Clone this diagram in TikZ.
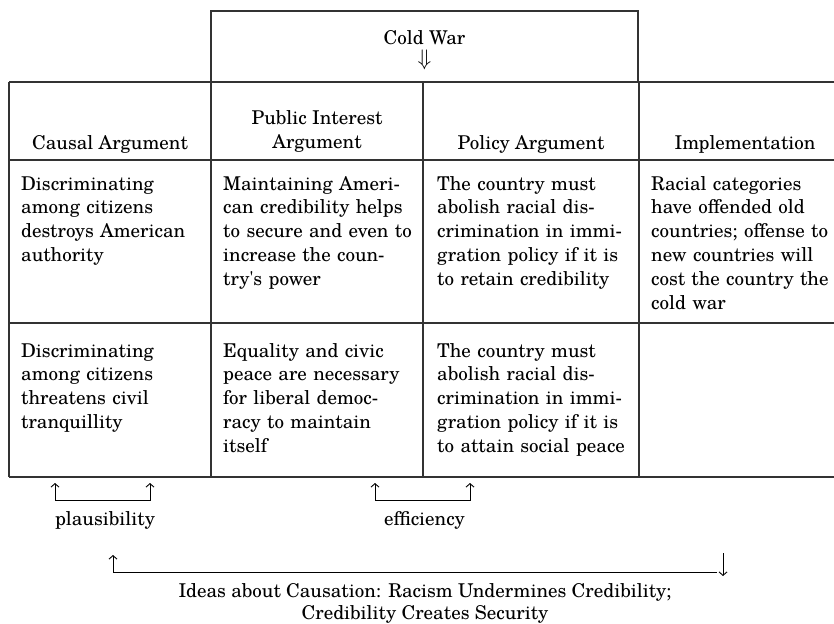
\documentclass[tikz,border=0pt]{standalone}
\usepackage{fontspec}
\usepackage{graphicx}
\setmainfont{texgyreschola}[Extension=.otf,UprightFont=*-regular,BoldFont=*-bold,ItalicFont=*-italic,BoldItalicFont=*-bolditalic,Ligatures=TeXOff]
\usetikzlibrary{arrows.meta}

\tikzset{
  rule/.style={line width=1.1pt, black!80},
  cell/.style={anchor=base west, text width=200pt, align=left, inner sep=0pt},
  head/.style={anchor=base, align=center, inner sep=0pt},
  twin/.style={line width=0.9pt, {Straight Barb[length=3.5pt,width=8pt]}-{Straight Barb[length=3.5pt,width=8pt]}},
  single/.style={line width=0.9pt, -{Straight Barb[length=3.5pt,width=8pt]}},
}

\begin{document}
\begin{tikzpicture}[x=1pt,y=1pt,yscale=-1,xscale=1,font=\fontsize{19}{23.8}\selectfont]
\useasboundingbox (0,0) rectangle (834,623);

%Shape: Cold War box
\draw [rule] (211,82) -- (211,11) -- (638,11) -- (638,82) ;
%Straight Lines: rows
\draw [rule] (9,82) -- (834,82) ;
\draw [rule] (9,160) -- (834,160) ;
\draw [rule] (9,323) -- (834,323) ;
\draw [rule] (9,477) -- (834,477) ;
%Straight Lines: columns
\draw [rule] (9,82) -- (9,477) ;
\draw [rule] (211,82) -- (211,477) ;
\draw [rule] (423,82) -- (423,477) ;
\draw [rule] (639,82) -- (639,477) ;

% Text Node
\node [head] (coldwar) at (424.5,65.5) {Cold War\\[-2.5pt]\scalebox{1.3}{$\Downarrow$}};
% Text Node
\node [head] (causal) at (110,149) {Causal Argument};
\node [head] (public) at (317,148) {Public Interest\\Argument};
\node [head] (policy) at (531,149) {Policy Argument};
\node [head] (implement) at (745,149) {Implementation};

% Text Node
\node [cell] (causal1) at (21,190) {Discriminating\\among citizens\\destroys American\\authority};
\node [cell] (public1) at (223,190) {Maintaining Ameri-\\can credibility helps\\to secure and even to\\increase the coun-\\try's power};
\node [cell] (policy1) at (437,190) {The country must\\abolish racial dis-\\crimination in immi-\\gration policy if it is\\to retain credibility};
\node [cell] (implement1) at (651,190) {Racial categories\\have offended old\\countries; offense to\\new countries will\\cost the country the\\cold war};

% Text Node
\node [cell] (causal2) at (21,357) {Discriminating\\among citizens\\threatens civil\\tranquillity};
\node [cell] (public2) at (223,357) {Equality and civic\\peace are necessary\\for liberal democ-\\racy to maintain\\itself};
\node [cell] (policy2) at (437,357) {The country must\\abolish racial dis-\\crimination in immi-\\gration policy if it is\\to attain social peace};

%Straight Lines: plausibility
\coordinate (plausL) at (55,483);
\coordinate (plausR) at (150,483);
\draw [twin] (plausL) -- ++(0,17) -| (plausR) ;
\node [head] (plaus) at (105,525) {plausibility};

%Straight Lines: efficiency
\coordinate (effL) at (375,483);
\coordinate (effR) at (470,483);
\draw [twin] (effL) -- ++(0,17) -| (effR) ;
\node [head] (eff) at (424.5,525) {efficiency};

%Straight Lines: causation
\coordinate (ideasL) at (113,555);
\coordinate (ideasR) at (717,572);
\coordinate (ideasD) at (723,553);
\draw [single] (ideasR) -| (ideasL) ;
\draw [single] (ideasD) -- ++(0,23) ;
\node [head] (ideas) at (425,619) {Ideas about Causation: Racism Undermines Credibility;\\[-1.8pt]Credibility Creates Security};

\end{tikzpicture}
\end{document}
